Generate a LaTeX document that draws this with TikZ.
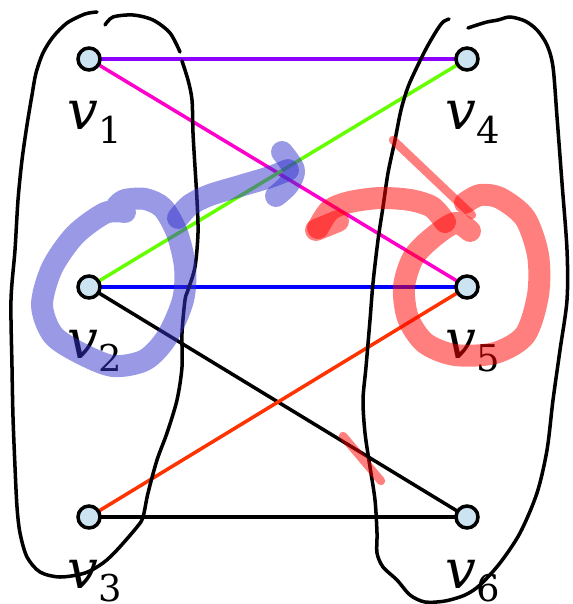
\documentclass[tikz,border=0pt]{standalone}
\usepackage{fontspec}
\newfontfamily\labfont{DejaVu Serif}
\usetikzlibrary{calc,backgrounds}
\definecolor{vfill}{RGB}{204,228,242}
\definecolor{cpurple}{RGB}{140,0,255}
\definecolor{cmagenta}{RGB}{255,0,204}
\definecolor{cgreen}{RGB}{102,255,0}
\definecolor{corange}{RGB}{255,51,0}
\definecolor{hblue}{RGB}{51,51,204}
\tikzset{
  vtx/.style={circle,draw,line width=2pt,fill=vfill,minimum size=0.44cm,inner sep=0pt},
  el/.style={line width=2pt},
  hand/.style={line width=2pt,line cap=round,line join=round},
  hlb/.style={line width=12.5pt,draw=hblue,opacity=0.5,line cap=round,line join=round},
  hlr/.style={line width=12.5pt,draw=red,opacity=0.5,line cap=round,line join=round},
  hlt/.style={hlr,line width=4.8pt},
  lab/.style={anchor=base west,inner sep=0pt},
}
\newcommand{\vl}[1]{{\labfont\fontsize{31}{31}\selectfont\itshape v}\raisebox{-7.5pt}{\labfont\fontsize{21}{21}\selectfont #1}}

\begin{document}
\begin{tikzpicture}[x=0.02cm,y=-0.02cm]
  \useasboundingbox (0,0) rectangle (573,604);
  % vertices
  \node[vtx] (v1) at (89,59) {}; \node[vtx] (v4) at (467,59) {};
  \node[vtx] (v2) at (89,287) {}; \node[vtx] (v5) at (467,287) {};
  \node[vtx] (v3) at (89,517) {}; \node[vtx] (v6) at (467,517) {};
  \begin{scope}[on background layer]
    \draw[el,cpurple] (v1.center) -- (v4.center);
    \draw[el,cmagenta] (v1.center) -- (v5.center);
    \draw[el,cgreen] (v2.center) -- (v4.center);
    \draw[el,blue] (v2.center) -- (v5.center);
    \draw[el] (v2.center) -- (v6.center);
    \draw[el,corange] (v3.center) -- (v5.center);
    \draw[el] (v3.center) -- (v6.center);
  \end{scope}
  % labels
  \foreach \i in {1,...,6}
    \node[lab] (l\i) at ([shift={(-22,71)}]v\i) {\vl{\i}};
  % hand drawn parts
  \draw[hand] plot[smooth] coordinates {(97,12) (85,14) (67,23) (53,37) (43,53) (36,73)
    (32,95) (27,125) (22,160) (18,200) (15,250) (11,300) (12,367) (13,417) (15,467)
    (17,507) (20,533) (27,557) (40,572) (60,577) (85,573) (103,563) (117,550) (137,527)
    (143,517) (148,493) (157,460) (167,433) (177,400) (182,367) (182,333) (185,300)
    (188,290) (195,267) (198,233) (197,200) (195,167) (193,133) (192,100) (188,80) (182,61)};
  \draw[hand] plot[smooth] coordinates {(105,25) (113,17) (133,15) (153,20) (170,33) (180,52)};
  \draw[hand] plot[smooth] coordinates {(449,19) (443,22) (437,30) (427,47) (417,67)
    (408,87) (401,110) (395,140) (388,173) (383,207) (378,240) (373,283) (370,320)
    (366,367) (363,400) (365,433) (370,467) (375,500) (377,533) (377,553) (383,567)
    (397,580) (410,595) (425,602) (445,601) (465,595) (480,585) (500,563) (520,533)
    (537,493) (547,450) (553,400) (560,350) (567,300) (567,250) (562,183) (557,117)
    (553,67) (547,45) (537,30) (525,21) (510,17) (498,20) (487,22) (477,25) (468,28)};
  % highlights
  \draw[hlb] plot[smooth] coordinates {(125,212) (105,213) (75,235) (52,268) (42,305)
    (53,335) (80,353) (113,366) (145,360) (167,337) (183,300) (185,267) (177,233)
    (163,208) (145,199) (125,200) (117,206)};
  \draw[hlb] plot[smooth] coordinates {(178,218) (190,205) (210,195) (240,186) (270,177) (288,170)};
  \draw[hlb] plot[smooth] coordinates {(282,152) (294,170) (288,185) (276,196)};
  \draw[hlr] plot[smooth] coordinates {(318,228) (330,210) (350,202) (380,198) (410,200)
    (432,207) (445,222)};
  \draw[hlr] (316,230) -- (338,221);
  \draw[hlr] plot[smooth] coordinates {(470,231) (455,223) (432,238) (413,258) (404,287)
    (408,318) (425,343) (455,355) (495,353) (525,335) (538,295) (538,255) (525,218)
    (500,198) (480,195) (465,203)};
  \draw[hlt] (393,140) -- (472,215);
  \draw[hlt] (343,436) -- (381,481);
\end{tikzpicture}
\end{document}
